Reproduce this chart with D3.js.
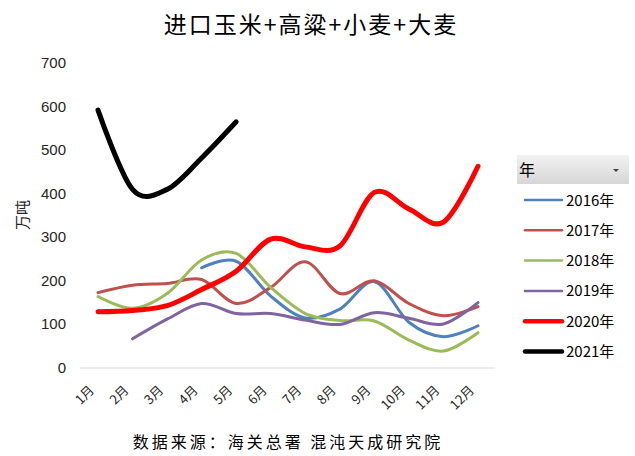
<!DOCTYPE html>
<html>
<head>
<meta charset="utf-8">
<script src="https://cdn.jsdelivr.net/npm/d3@7"></script>
<style>
  body { margin: 0; background: #fff; }
  svg { display: block; }
</style>
</head>
<body>
<svg id="chart" width="635" height="456"></svg>
<script>
// data
const months = ['1月', '2月', '3月', '4月', '5月', '6月', '7月', '8月', '9月', '10月', '11月', '12月'];
const yTicks = [0, 100, 200, 300, 400, 500, 600, 700];
const years = ['2016年', '2017年', '2018年', '2019年', '2020年', '2021年'];
const v2016 = [null, null, null, 230, 245, 165, 115, 135, 198, 105, 72, 97];
const v2017 = [173, 190, 194, 203, 148, 185, 244, 171, 200, 148, 120, 141];
const v2018 = [164, 137, 171, 248, 263, 185, 125, 109, 108, 64, 39, 81];
const v2019 = [null, 67, 112, 148, 125, 125, 110, 100, 127, 114, 101, 150];
const v2020 = [129, 132, 143, 180, 222, 296, 278, 280, 403, 365, 335, 463];
const v2021 = [592, 410, 410, 482, 565, null, null, null, null, null, null, null];
const colors = ['#4f81bd', '#c0504d', '#9bbb59', '#8064a2', '#ff0000', '#000000'];
const widths = [3, 3, 3, 3, 5, 5];

const series = [v2016, v2017, v2018, v2019, v2020, v2021];

var svg = d3.select('#chart');

var x = d3.scalePoint().domain(months).range([98, 478]);
var y = d3.scaleLinear().domain([0, 700]).range([368, 63]);

// title
svg.append('text')
  .attr('x', 311).attr('y', 33)
  .attr('text-anchor', 'middle')
  .style('font-family', '"Noto Sans CJK SC"')
  .style('font-size', '23px')
  .style('letter-spacing', '2px')
  .attr('fill', '#000')
  .text('进口玉米+高粱+小麦+大麦');

// baseline at 0
svg.append('line')
  .attr('x1', 80).attr('x2', 495)
  .attr('y1', y(0)).attr('y2', y(0))
  .attr('stroke', '#d9d9d9').attr('stroke-width', 1);

// y labels
svg.selectAll('.ytick')
  .data(yTicks)
  .enter().append('text')
  .attr('class', 'ytick')
  .attr('x', 66)
  .attr('y', d => y(d) + 5)
  .attr('text-anchor', 'end')
  .style('font-family', '"Liberation Sans", Arial')
  .style('font-size', '15px')
  .attr('fill', '#262626')
  .text(d => d);

// y title
svg.append('text')
  .attr('transform', 'translate(28,215) rotate(-90)')
  .attr('text-anchor', 'middle')
  .style('font-family', '"Noto Sans CJK SC"')
  .style('font-size', '15px')
  .attr('fill', '#262626')
  .text('万吨');

// x labels, rotated
svg.selectAll('.xtick')
  .data(months)
  .enter().append('text')
  .attr('class', 'xtick')
  .attr('transform', d => 'translate(' + (x(d) - 3) + ',391) rotate(-45)')
  .attr('text-anchor', 'end')
  .style('font-family', '"Noto Sans CJK SC"')
  .style('font-size', '13px')
  .attr('fill', '#262626')
  .text(d => d);

// lines
var line = d3.line()
  .defined(d => d != null)
  .x((d, i) => x(months[i]))
  .y(d => y(d))
  .curve(d3.curveCatmullRom.alpha(0));

series.forEach(function(s, k) {
  svg.append('path')
    .datum(s)
    .attr('d', line)
    .attr('fill', 'none')
    .attr('stroke', colors[k])
    .attr('stroke-width', widths[k])
    .attr('stroke-linecap', 'round')
    .attr('stroke-linejoin', 'round');
});

// legend header box
var grad = svg.append('defs').append('linearGradient')
  .attr('id', 'hdr').attr('x1', 0).attr('y1', 0).attr('x2', 0).attr('y2', 1);
grad.append('stop').attr('offset', '0%').attr('stop-color', '#f2f2f2');
grad.append('stop').attr('offset', '100%').attr('stop-color', '#d6d6d6');

svg.append('rect')
  .attr('x', 517).attr('y', 155)
  .attr('width', 112).attr('height', 29)
  .attr('fill', 'url(#hdr)');
svg.append('text')
  .attr('x', 519).attr('y', 176)
  .style('font-family', '"Noto Sans CJK SC"')
  .style('font-size', '16px')
  .attr('fill', '#000')
  .text('年');
svg.append('path')
  .attr('d', 'M613,169 L619,169 L616,172 Z')
  .attr('fill', '#404040');

// legend entries
var leg = svg.selectAll('.leg')
  .data(years)
  .enter().append('g')
  .attr('class', 'leg')
  .attr('transform', (d, i) => 'translate(0,' + (200 + i * 30.3) + ')');

leg.append('line')
  .attr('x1', 525).attr('x2', 562)
  .attr('y1', 0).attr('y2', 0)
  .attr('stroke', (d, i) => colors[i])
  .attr('stroke-width', (d, i) => widths[i] - 0.5)
  .attr('stroke-linecap', 'round');

leg.append('text')
  .attr('x', 566).attr('y', 5.5)
  .style('font-family', '"Noto Sans CJK SC"')
  .style('font-size', '15px')
  .attr('fill', '#000')
  .text(d => d);

// source note
svg.append('text')
  .attr('x', 288).attr('y', 448)
  .attr('text-anchor', 'middle')
  .style('font-family', '"Noto Sans CJK SC"')
  .style('font-size', '16px')
  .style('letter-spacing', '3px')
  .attr('fill', '#000')
  .text('数据来源：海关总署 混沌天成研究院');
</script>
</body>
</html>
